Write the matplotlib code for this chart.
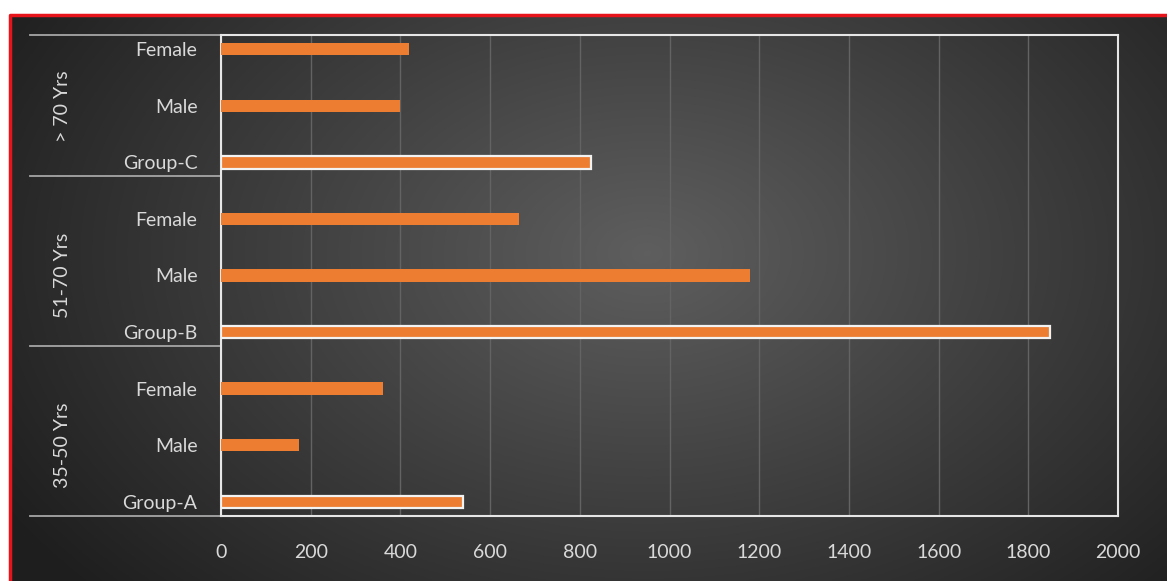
import numpy as np
import matplotlib
matplotlib.use("Agg")
import matplotlib.pyplot as plt
import matplotlib.transforms as mtransforms

# rows listed bottom to top
row_labels = ["Group-A", "Male", "Female",
              "Group-B", "Male", "Female",
              "Group-C", "Male", "Female"]
values = [540, 174, 361,
          1848, 1179, 664,
          825, 399, 419]
group_names = ["35-50 Yrs", "51-70 Yrs", "> 70 Yrs"]
x_ticks = [0, 200, 400, 600, 800, 1000, 1200, 1400, 1600, 1800, 2000]

plt.rcParams['font.family'] = ['Lato', 'DejaVu Sans']
txt_col = '#d9d9d9'
bar_col = '#ed7d31'

fig = plt.figure(figsize=(11.67, 5.81), dpi=100)
fig.patch.set_facecolor('white')

# dark radial gradient background, red line on left and top only
bg = fig.add_axes([10/1167, 0, 1 - 10/1167, 1 - 15/581])
h, w = 300, 600
yy, xx = np.mgrid[0:h, 0:w]
cx, cy = 0.55 * w, 0.42 * h
r = np.sqrt(((xx - cx) / (0.62 * w))**2 + ((yy - cy) / (0.85 * h))**2)
shade = np.clip(0.37 - 0.24 * r, 0.12, 0.4)
bg.imshow(np.dstack([shade, shade, shade]), aspect='auto', extent=[0, 1, 0, 1],
          interpolation='bilinear')
bg.set_xlim(0, 1)
bg.set_ylim(0, 1)
bg.axis('off')
bg.plot([0, 0, 1], [0, 1, 1], transform=bg.transAxes, color='#e8141b',
        linewidth=2.5, clip_on=False)

ax = fig.add_axes([221/1167, 65/581, (1118-221)/1167, (516-35)/581])
ax.patch.set_alpha(0)

y = np.arange(len(values))
is_group = [lbl.startswith("Group") for lbl in row_labels]
for i in y:
    if is_group[i]:
        ax.barh(i, values[i], height=0.22, color=bar_col, edgecolor='#f2f2f2',
                linewidth=1.6, zorder=3)
    else:
        ax.barh(i, values[i], height=0.22, color=bar_col, edgecolor='none', zorder=3)

ax.set_xlim(0, 2000)
ax.set_ylim(-0.25, len(values) - 0.75)
ax.set_xticks(x_ticks)
ax.set_yticks(y)
ax.set_yticklabels(row_labels)
ax.tick_params(axis='both', length=0, colors=txt_col, labelsize=14)
ax.tick_params(axis='y', pad=17)
ax.tick_params(axis='x', pad=20)
ax.grid(axis='x', color='#636363', linewidth=1, zorder=0)
ax.set_axisbelow(True)
for s in ax.spines.values():
    s.set_color('#e6e6e6')
    s.set_linewidth(1.5)

# group separators and labels on the left
trans = mtransforms.blended_transform_factory(ax.transAxes, ax.transData)
for yb in [-0.25, 2.75, 5.75, len(values) - 0.75]:
    ax.plot([-0.213, 0], [yb, yb], transform=trans, color='#a6a6a6',
            linewidth=1.3, clip_on=False)
for g, name in enumerate(group_names):
    ax.text(-0.177, 3 * g + 1, name, transform=trans, rotation=90,
            ha='center', va='center', color=txt_col, fontsize=14)

fig.savefig("out.png", dpi=100, facecolor=fig.get_facecolor())
